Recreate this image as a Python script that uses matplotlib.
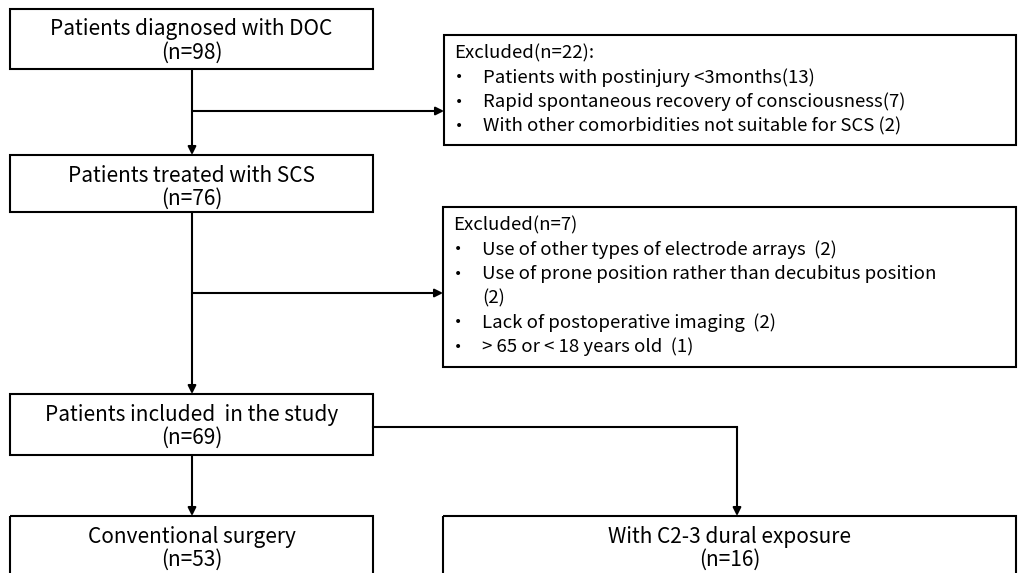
import matplotlib.pyplot as plt
from matplotlib.patches import Rectangle

plt.rcParams['font.family'] = ['Noto Sans CJK SC', 'DejaVu Sans']

# main boxes: title line, count line
main_titles = ["Patients diagnosed with DOC", "Patients treated with SCS",
               "Patients included  in the study", "Conventional surgery",
               "With C2-3 dural exposure"]
main_counts = ["(n=98)", "(n=76)", "(n=69)", "(n=53)", "(n=16)"]

excl1_head = "Excluded(n=22):"
excl1_items = ["Patients with postinjury <3months(13)",
               "Rapid spontaneous recovery of consciousness(7)",
               "With other comorbidities not suitable for SCS (2)"]
excl2_head = "Excluded(n=7)"
excl2_items = ["Use of other types of electrode arrays  (2)",
               "Use of prone position rather than decubitus position\n(2)",
               "Lack of postoperative imaging  (2)",
               "> 65 or < 18 years old  (1)"]

W, H = 1019, 573
fig = plt.figure(figsize=(W / 100, H / 100), dpi=100)
ax = fig.add_axes([0, 0, 1, 1])
ax.set_xlim(0, W)
ax.set_ylim(H, 0)
ax.axis('off')

lw = 1.5
fs_main = 15
fs = 13.4

# (x0, y0, x1, y1) in pixels
main_boxes = [(10, 9, 373, 69), (10, 155, 373, 212), (10, 394, 373, 455),
              (10, 516, 373, 590), (443, 516, 1016, 590)]
for (x0, y0, x1, y1), t, c in zip(main_boxes, main_titles, main_counts):
    ax.add_patch(Rectangle((x0, y0), x1 - x0, y1 - y0, fill=False, ec='black', lw=lw))
    cx = (x0 + x1) / 2
    ax.text(cx, y0 + 20.5, t, ha='center', va='center', fontsize=fs_main)
    ax.text(cx, y0 + 44, c, ha='center', va='center', fontsize=fs_main)


def excl_box(x0, y0, x1, y1, head, items):
    ax.add_patch(Rectangle((x0, y0), x1 - x0, y1 - y0, fill=False, ec='black', lw=lw))
    y = y0 + 18
    ax.text(x0 + 10, y, head, ha='left', va='center', fontsize=fs)
    for it in items:
        for k, line in enumerate(it.split("\n")):
            y += 24.3
            if k == 0:
                ax.text(x0 + 11, y, "•", ha='left', va='center', fontsize=10,
                        family='DejaVu Sans')
            ax.text(x0 + 39, y, line, ha='left', va='center', fontsize=fs)


excl_box(444, 35, 1016, 145, excl1_head, excl1_items)
excl_box(443, 207, 1016, 367, excl2_head, excl2_items)


def arrow(x0, y0, x1, y1):
    ax.annotate("", xy=(x1, y1), xytext=(x0, y0),
                arrowprops=dict(arrowstyle='-|>', color='black', lw=lw,
                                mutation_scale=12, shrinkA=0, shrinkB=0))


cx = 192
arrow(cx, 69, cx, 155)
arrow(cx, 111, 444, 111)
arrow(cx, 212, cx, 394)
arrow(cx, 293, 443, 293)
arrow(cx, 455, cx, 516)
ax.plot([373, 737], [427, 427], color='black', lw=lw)
arrow(737, 427, 737, 516)

fig.savefig("out.png", dpi=100)
